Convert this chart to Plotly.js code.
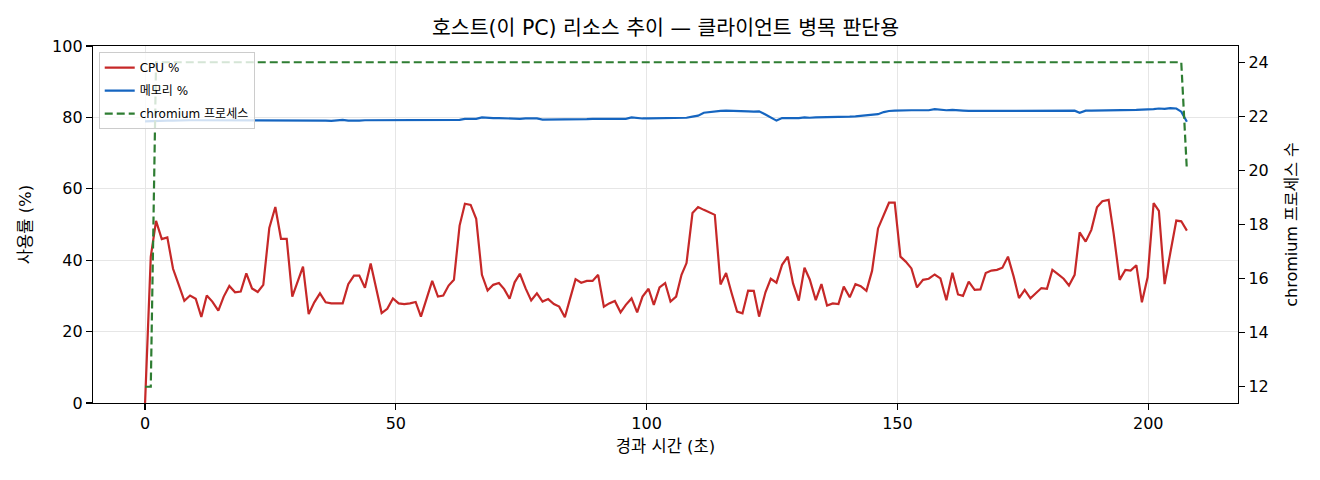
<!DOCTYPE html>
<html>
<head>
<meta charset="utf-8">
<script src="https://cdn.plot.ly/plotly-3.0.1.min.js"></script>
<style>html,body{margin:0;padding:0;background:#fff;}#chart{width:1320px;height:480px;}</style>
</head>
<body>
<div id="chart"></div>
<script>
const elapsedSec = [
0.00, 1.14, 2.19, 3.33, 4.44, 5.58, 6.72, 7.83, 8.97, 10.10,
11.22, 12.30, 13.41, 14.61, 15.68, 16.80, 17.94, 19.07, 20.19, 21.32,
22.46, 23.57, 24.77, 25.97, 27.10, 28.24, 29.35, 30.35, 31.49, 32.62,
33.74, 34.87, 36.01, 37.13, 38.26, 39.40, 40.51, 41.65, 42.71, 43.84,
44.98, 46.09, 47.17, 48.29, 49.42, 50.56, 51.67, 52.81, 53.95, 55.00,
56.14, 57.25, 58.39, 59.45, 60.52, 61.58, 62.71, 63.77, 64.91, 66.02,
67.16, 68.29, 69.41, 70.55, 71.60, 72.68, 73.68, 74.73, 75.87, 76.98,
78.12, 79.25, 80.37, 81.51, 82.56, 83.70, 84.75, 85.83, 86.95, 88.08,
89.22, 90.33, 91.47, 92.53, 93.66, 94.80, 95.85, 96.99, 98.11, 99.18,
100.38, 101.43, 102.57, 103.69, 104.76, 105.88, 106.95, 107.95, 109.14, 110.26,
111.40, 112.45, 113.59, 114.73, 115.84, 116.92, 118.03, 119.11, 120.23, 121.36,
122.42, 123.69, 124.75, 125.88, 127.00, 128.14, 129.19, 130.33, 131.47, 132.52,
133.72, 134.85, 135.97, 137.11, 138.24, 139.30, 140.49, 141.63, 142.69, 143.82,
144.94, 146.13, 147.27, 148.32, 149.46, 150.60, 151.65, 152.79, 153.90, 155.10,
156.24, 157.43, 158.57, 159.76, 160.96, 162.08, 163.07, 164.21, 165.40, 166.54,
167.60, 168.73, 169.85, 170.93, 172.04, 173.18, 174.23, 175.37, 176.51, 177.56,
178.70, 179.81, 180.89, 182.00, 183.14, 184.20, 185.33, 186.33, 187.53, 188.66,
189.78, 190.85, 192.11, 193.10, 194.30, 195.44, 196.49, 197.63, 198.74, 199.88,
201.08, 202.13, 203.27, 204.40, 205.60, 206.59, 207.71
];

const cpuPct = [
0, 41.0, 51.0, 45.9, 46.4, 37.6, 33.1, 28.6, 30.1, 29.2,
24.1, 30.1, 28.4, 25.9, 29.8, 32.8, 31.0, 31.2, 36.3, 32.1,
31.1, 33.1, 49.0, 54.9, 46.0, 46.0, 29.8, 33.9, 38.2, 24.9,
28.2, 30.7, 28.2, 27.9, 27.9, 27.9, 33.3, 35.7, 35.7, 32.3,
39.1, 32.0, 25.2, 26.4, 29.3, 27.9, 27.7, 27.9, 28.3, 24.2,
29.2, 34.2, 29.8, 30.1, 32.9, 34.5, 49.7, 55.8, 55.5, 51.6,
35.9, 31.5, 33.1, 33.6, 31.9, 29.2, 33.8, 36.2, 32.1, 28.7,
30.7, 28.4, 29.1, 27.7, 27.0, 24.0, 29.3, 34.7, 33.7, 34.2,
34.2, 35.9, 27.0, 27.9, 28.6, 25.4, 27.5, 29.3, 25.4, 29.8,
32.0, 27.5, 32.4, 33.6, 28.4, 29.8, 35.9, 39.2, 53.2, 54.9,
54.1, 53.4, 52.7, 33.2, 36.4, 30.9, 25.6, 25.1, 31.5, 31.4,
24.2, 31.0, 34.8, 33.7, 38.7, 41.0, 33.5, 28.7, 37.9, 34.6,
28.8, 33.3, 27.3, 27.9, 27.7, 32.6, 29.6, 33.3, 32.7, 31.4,
37.0, 48.9, 52.5, 56.1, 56.1, 41.0, 39.6, 37.7, 32.4, 34.5,
34.8, 36.0, 34.9, 28.8, 36.5, 30.4, 30.0, 34.0, 31.7, 31.8,
36.4, 37.1, 37.3, 37.9, 41.0, 35.4, 29.4, 31.7, 29.3, 30.6,
32.2, 32.0, 37.3, 36.1, 34.8, 32.9, 35.9, 47.8, 45.2, 48.5,
54.8, 56.5, 56.9, 47.5, 34.5, 37.3, 37.1, 38.6, 28.2, 35.2,
56.0, 53.8, 33.3, 42.0, 51.1, 50.9, 48.3
];

const memPct = [
78.9, 79.0, 79.1, 79.1, 79.1, 79.1, 79.2, 79.2, 79.2, 79.2,
79.2, 79.2, 79.2, 79.2, 79.1, 79.1, 79.1, 79.2, 79.2, 79.2,
79.2, 79.2, 79.1, 79.2, 79.2, 79.3, 79.3, 79.3, 79.3, 79.2,
79.2, 79.2, 79.1, 79.0, 79.1, 79.3, 79.1, 79.0, 79.1, 79.2,
79.2, 79.2, 79.2, 79.3, 79.2, 79.2, 79.2, 79.2, 79.2, 79.2,
79.2, 79.2, 79.2, 79.3, 79.3, 79.3, 79.3, 79.6, 79.5, 79.6,
80.0, 79.8, 79.8, 79.8, 79.7, 79.6, 79.6, 79.6, 79.7, 79.8,
79.7, 79.4, 79.4, 79.4, 79.4, 79.3, 79.4, 79.4, 79.5, 79.5,
79.6, 79.6, 79.6, 79.6, 79.6, 79.6, 79.6, 80.0, 79.8, 79.7,
79.7, 79.7, 79.8, 79.8, 79.8, 79.8, 79.8, 79.9, 80.2, 80.5,
81.3, 81.5, 81.7, 81.8, 81.9, 81.9, 81.9, 81.8, 81.7, 81.6,
81.7, 80.8, 80.0, 79.1, 79.8, 79.8, 79.7, 79.8, 80.0, 79.9,
80.0, 80.0, 80.0, 80.1, 80.1, 80.2, 80.2, 80.3, 80.4, 80.5,
80.6, 80.9, 81.5, 81.8, 81.9, 82.0, 82.0, 82.0, 82.0, 81.9,
82.0, 82.3, 82.1, 82.0, 82.1, 82.1, 81.9, 81.8, 81.8, 81.9,
81.9, 81.9, 81.8, 81.9, 81.9, 81.9, 81.9, 81.9, 81.9, 82.0,
82.0, 82.0, 82.0, 81.9, 81.9, 81.9, 81.9, 81.3, 81.9, 81.9,
81.9, 81.9, 82.0, 82.0, 82.0, 82.1, 82.1, 82.1, 82.2, 82.2,
82.3, 82.5, 82.4, 82.6, 82.5, 81.6, 78.8
];

const chromiumProcs = [
12, 12, 24, 24, 24, 24, 24, 24, 24, 24,
24, 24, 24, 24, 24, 24, 24, 24, 24, 24,
24, 24, 24, 24, 24, 24, 24, 24, 24, 24,
24, 24, 24, 24, 24, 24, 24, 24, 24, 24,
24, 24, 24, 24, 24, 24, 24, 24, 24, 24,
24, 24, 24, 24, 24, 24, 24, 24, 24, 24,
24, 24, 24, 24, 24, 24, 24, 24, 24, 24,
24, 24, 24, 24, 24, 24, 24, 24, 24, 24,
24, 24, 24, 24, 24, 24, 24, 24, 24, 24,
24, 24, 24, 24, 24, 24, 24, 24, 24, 24,
24, 24, 24, 24, 24, 24, 24, 24, 24, 24,
24, 24, 24, 24, 24, 24, 24, 24, 24, 24,
24, 24, 24, 24, 24, 24, 24, 24, 24, 24,
24, 24, 24, 24, 24, 24, 24, 24, 24, 24,
24, 24, 24, 24, 24, 24, 24, 24, 24, 24,
24, 24, 24, 24, 24, 24, 24, 24, 24, 24,
24, 24, 24, 24, 24, 24, 24, 24, 24, 24,
24, 24, 24, 24, 24, 24, 24, 24, 24, 24,
24, 24, 24, 24, 24, 24, 20
];

const seriesNames = ['CPU %', '메모리 %', 'chromium 프로세스'];
const chartTitle = '호스트(이 PC) 리소스 추이 — 클라이언트 병목 판단용';
const xLabel = '경과 시간 (초)';
const yLabel = '사용률 (%)';
const y2Label = 'chromium 프로세스 수';

const FONT = '"DejaVu Sans", "Noto Sans CJK KR", sans-serif';

const traces = [
  {x: elapsedSec, y: cpuPct, name: seriesNames[0], type: 'scatter', mode: 'lines',
   line: {color: '#c62828', width: 2.2}, yaxis: 'y', legendgroup: 'g1'},
  {x: elapsedSec, y: memPct, name: seriesNames[1], type: 'scatter', mode: 'lines',
   line: {color: '#1565c0', width: 2.2}, yaxis: 'y', legendgroup: 'g2'},
  {x: elapsedSec, y: chromiumProcs, name: seriesNames[2], type: 'scatter', mode: 'lines',
   line: {color: '#2e7d32', width: 2.2, dash: '8px,4px'}, yaxis: 'y2', legendgroup: 'g3'}
];

const layout = {
  width: 1320, height: 480,
  margin: {l: 93, r: 82, t: 46, b: 77, pad: 0},
  paper_bgcolor: '#ffffff', plot_bgcolor: '#ffffff',
  font: {family: FONT, size: 16, color: '#000000'},
  showlegend: true,
  title: {text: chartTitle, font: {family: FONT, size: 20.5, color: '#000'},
          x: 0.5, xref: 'paper', xanchor: 'center', y: 1 - 28/480, yref: 'container', yanchor: 'middle'},
  xaxis: {
    range: [-10.38, 217.9], tick0: 0, dtick: 50, zeroline: false,
    showgrid: true, gridcolor: '#e6e6e6', gridwidth: 1,
    showline: true, linecolor: '#000', linewidth: 1.2, mirror: true,
    ticks: 'outside', ticklen: 6, tickwidth: 1.2, tickcolor: '#000',
    tickfont: {family: FONT, size: 16, color: '#000'},
    title: {text: xLabel, font: {family: FONT, size: 16.5, color: '#000'}, standoff: 8},
    automargin: false
  },
  yaxis: {
    range: [0, 100], tick0: 0, dtick: 20, zeroline: false,
    showgrid: true, gridcolor: '#e6e6e6', gridwidth: 1,
    showline: true, linecolor: '#000', linewidth: 1.2, mirror: true,
    ticks: 'outside', ticklen: 6, tickwidth: 1.2, tickcolor: '#000',
    tickfont: {family: FONT, size: 16, color: '#000'},
    title: {text: yLabel, font: {family: FONT, size: 16.5, color: '#000'}, standoff: 16},
    automargin: false
  },
  yaxis2: {
    overlaying: 'y', side: 'right', anchor: 'x',
    range: [11.4, 24.6], tick0: 12, dtick: 2, zeroline: false, showgrid: false,
    showline: true, linecolor: '#000', linewidth: 1.2,
    ticks: 'outside', ticklen: 6, tickwidth: 1.2, tickcolor: '#000',
    tickfont: {family: FONT, size: 16, color: '#000'},
    title: {text: y2Label, font: {family: FONT, size: 16, color: '#000'}, standoff: 18},
    automargin: false
  },
  legend: {
    x: 0.005, y: 0.983, xanchor: 'left', yanchor: 'top',
    bgcolor: 'rgba(255,255,255,0.8)', bordercolor: '#cccccc', borderwidth: 1,
    font: {family: FONT, size: 12, color: '#000'},
    itemwidth: 30, tracegroupgap: 4, traceorder: 'grouped'
  }
};

Plotly.newPlot('chart', traces, layout, {displayModeBar: false, staticPlot: true});
</script>
</body>
</html>
